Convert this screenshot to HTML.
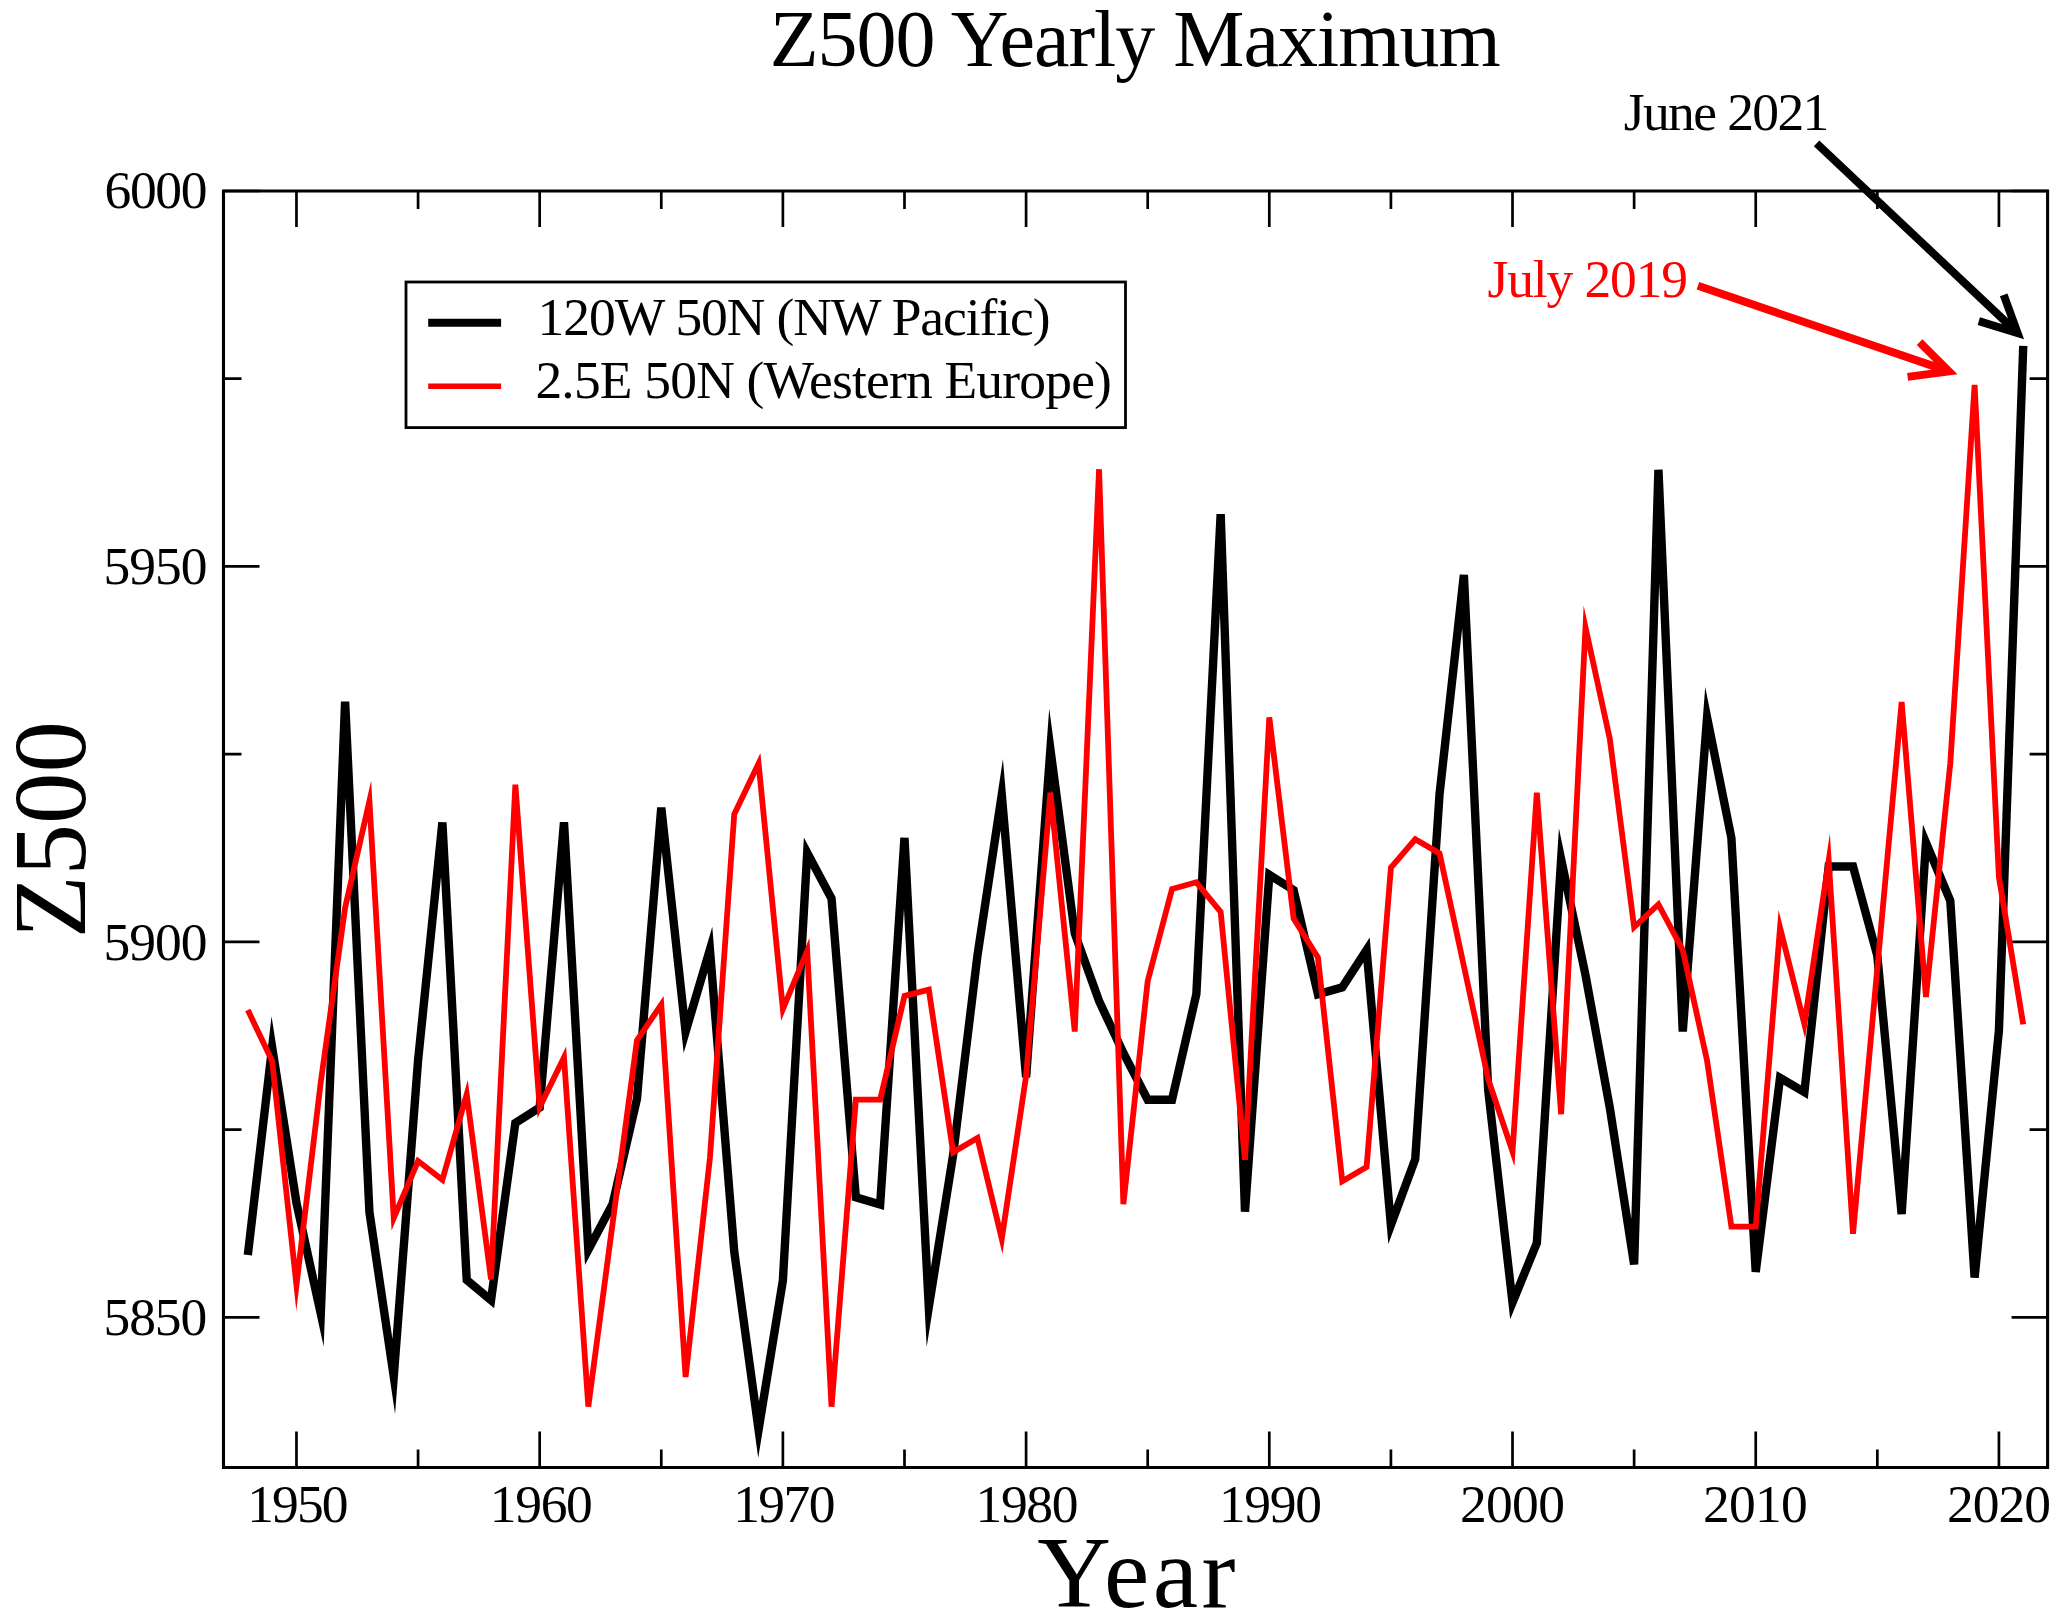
<!DOCTYPE html>
<html><head><meta charset="utf-8"><title>Z500 Yearly Maximum</title><style>
html,body{margin:0;padding:0;background:#fff;width:2067px;height:1621px;overflow:hidden}
svg{display:block}
text{font-family:"Liberation Serif",serif}
</style></head><body>
<svg width="2067" height="1621" viewBox="0 0 2067 1621">
<rect x="0" y="0" width="2067" height="1621" fill="#fff"/>
<text x="769.70" y="65.60" font-size="80.00" textLength="731.07" lengthAdjust="spacing">Z500 Yearly Maximum</text>
<text x="1037.20" y="1607.30" font-size="102.00" textLength="198.37" lengthAdjust="spacing">Year</text>
<text x="537.60" y="335.20" font-size="53.50" textLength="512.98" lengthAdjust="spacing">120W 50N (NW Pacific)</text>
<text x="535.40" y="398.20" font-size="53.50" textLength="576.51" lengthAdjust="spacing">2.5E 50N (Western Europe)</text>
<text x="1623.70" y="130.20" font-size="53.50" textLength="205.65" lengthAdjust="spacing">June 2021</text>
<text x="1487.50" y="297.30" font-size="53.50" textLength="200.56" lengthAdjust="spacing" fill="#f00">July 2019</text>
<text x="103.50" y="1335.40" font-size="53.50" textLength="103.80" lengthAdjust="spacing">5850</text>
<text x="103.60" y="959.50" font-size="53.50" textLength="104.00" lengthAdjust="spacing">5900</text>
<text x="103.60" y="584.30" font-size="53.50" textLength="104.00" lengthAdjust="spacing">5950</text>
<text x="104.50" y="208.10" font-size="53.50" textLength="103.00" lengthAdjust="spacing">6000</text>
<text x="247.20" y="1521.50" font-size="53.50" textLength="101.40" lengthAdjust="spacing">1950</text>
<text x="489.80" y="1521.50" font-size="53.50" textLength="103.00" lengthAdjust="spacing">1960</text>
<text x="733.20" y="1521.50" font-size="53.50" textLength="102.20" lengthAdjust="spacing">1970</text>
<text x="975.50" y="1521.50" font-size="53.50" textLength="103.00" lengthAdjust="spacing">1980</text>
<text x="1218.90" y="1521.50" font-size="53.50" textLength="103.00" lengthAdjust="spacing">1990</text>
<text x="1459.90" y="1521.50" font-size="53.50" textLength="105.00" lengthAdjust="spacing">2000</text>
<text x="1703.10" y="1521.50" font-size="53.50" textLength="104.60" lengthAdjust="spacing">2010</text>
<text x="1947.10" y="1521.50" font-size="53.50" textLength="103.80" lengthAdjust="spacing">2020</text>
<text transform="translate(85 938.3) rotate(-90)" font-size="103">Z500</text>
<path d="M296.46 1467.50 V1431.50 M296.46 191.00 V227.00 M418.07 1467.50 V1449.50 M418.07 191.00 V209.00 M539.67 1467.50 V1431.50 M539.67 191.00 V227.00 M661.28 1467.50 V1449.50 M661.28 191.00 V209.00 M782.88 1467.50 V1431.50 M782.88 191.00 V227.00 M904.49 1467.50 V1449.50 M904.49 191.00 V209.00 M1026.09 1467.50 V1431.50 M1026.09 191.00 V227.00 M1147.70 1467.50 V1449.50 M1147.70 191.00 V209.00 M1269.30 1467.50 V1431.50 M1269.30 191.00 V227.00 M1390.91 1467.50 V1449.50 M1390.91 191.00 V209.00 M1512.51 1467.50 V1431.50 M1512.51 191.00 V227.00 M1634.12 1467.50 V1449.50 M1634.12 191.00 V209.00 M1755.72 1467.50 V1431.50 M1755.72 191.00 V227.00 M1877.33 1467.50 V1449.50 M1877.33 191.00 V209.00 M1998.93 1467.50 V1431.50 M1998.93 191.00 V227.00 M223.50 1317.32 H259.50 M2047.60 1317.32 H2011.60 M223.50 1129.60 H241.50 M2047.60 1129.60 H2029.60 M223.50 941.88 H259.50 M2047.60 941.88 H2011.60 M223.50 754.16 H241.50 M2047.60 754.16 H2029.60 M223.50 566.44 H259.50 M2047.60 566.44 H2011.60 M223.50 378.72 H241.50 M2047.60 378.72 H2029.60 M223.50 191.00 H259.50 M2047.60 191.00 H2011.60" stroke="#000" stroke-width="2.7" fill="none"/>
<path d="M223.5 191.0 H2047.6 V1467.5 H223.5 Z" stroke="#000" stroke-width="3.1" fill="none" stroke-linejoin="miter"/>
<rect x="406" y="282" width="719.5" height="145.6" stroke="#000" stroke-width="2.8" fill="none"/>
<path d="M428.2 322.7 H501.1" stroke="#000" stroke-width="8"/>
<path d="M428.2 386.3 H501.1" stroke="#f00" stroke-width="5.4"/>
<path d="M247.82 1255.10 L272.14 1047.33 L296.46 1203.00 L320.78 1313.64 L345.11 701.70 L369.43 1212.19 L393.75 1376.50 L418.07 1060.37 L442.39 822.43 L466.71 1279.94 L491.03 1300.14 L515.35 1123.00 L539.67 1107.57 L563.99 822.36 L588.32 1249.77 L612.64 1204.02 L636.96 1098.95 L661.28 807.65 L685.60 1031.65 L709.92 949.60 L734.24 1251.55 L758.56 1429.65 L782.88 1280.54 L807.20 852.82 L831.53 898.51 L855.85 1197.30 L880.17 1204.57 L904.49 837.88 L928.81 1307.06 L953.13 1155.00 L977.45 955.57 L1001.77 794.76 L1026.09 1077.14 L1050.41 749.42 L1074.74 933.30 L1099.06 1001.00 L1123.38 1053.00 L1147.70 1099.80 L1172.02 1099.80 L1196.34 994.22 L1220.66 514.21 L1244.98 1211.60 L1269.30 874.77 L1293.62 890.04 L1317.95 994.26 L1342.27 987.39 L1366.59 950.07 L1390.91 1225.00 L1415.23 1159.12 L1439.55 794.07 L1463.87 574.96 L1488.19 1090.00 L1512.51 1302.55 L1536.83 1243.05 L1561.15 859.28 L1585.48 975.00 L1609.80 1107.70 L1634.12 1264.36 L1658.44 469.78 L1682.76 1031.48 L1707.08 717.44 L1731.40 838.04 L1755.72 1271.88 L1780.04 1077.84 L1804.37 1092.09 L1828.69 866.50 L1853.01 866.50 L1877.33 955.75 L1901.65 1214.01 L1925.97 842.61 L1950.29 900.77 L1974.61 1277.59 L1998.93 1030.32 L2023.25 345.90" stroke="#000" stroke-width="8.4" fill="none" stroke-linejoin="miter" stroke-miterlimit="10"/>
<path d="M247.82 1010.00 L272.14 1061.00 L296.46 1285.12 L320.78 1082.00 L345.11 907.72 L369.43 801.04 L393.75 1217.92 L418.07 1161.00 L442.39 1179.87 L466.71 1094.20 L491.03 1279.42 L515.35 784.72 L539.67 1107.15 L563.99 1057.56 L588.32 1406.52 L612.64 1223.00 L636.96 1040.26 L661.28 1004.59 L685.60 1376.98 L709.92 1158.00 L734.24 814.16 L758.56 763.49 L782.88 1009.07 L807.20 950.75 L831.53 1406.67 L855.85 1099.60 L880.17 1099.60 L904.49 995.97 L928.81 989.71 L953.13 1152.32 L977.45 1137.99 L1001.77 1238.76 L1026.09 1076.00 L1050.41 792.69 L1074.74 1031.51 L1099.06 469.23 L1123.38 1204.19 L1147.70 981.03 L1172.02 889.05 L1196.34 882.30 L1220.66 911.86 L1244.98 1159.72 L1269.30 717.35 L1293.62 918.51 L1317.95 957.47 L1342.27 1181.23 L1366.59 1166.96 L1390.91 867.67 L1415.23 839.32 L1439.55 853.46 L1463.87 966.00 L1488.19 1079.13 L1512.51 1151.52 L1536.83 792.62 L1561.15 1114.18 L1585.48 627.39 L1609.80 738.80 L1634.12 927.05 L1658.44 904.49 L1682.76 950.11 L1707.08 1060.72 L1731.40 1226.70 L1755.72 1226.70 L1780.04 927.77 L1804.37 1024.05 L1828.69 860.68 L1853.01 1233.84 L1877.33 968.00 L1901.65 702.06 L1925.97 997.00 L1950.29 763.26 L1974.61 384.89 L1998.93 877.29 L2023.25 1024.40" stroke="#f00" stroke-width="5.8" fill="none" stroke-linejoin="miter" stroke-miterlimit="9.45"/>
<path d="M1816.6 143.3 L2017.6 333 M2003.7 294.8 L2017.6 333 L1978.8 321.2" stroke="#000" stroke-width="8" fill="none" stroke-linejoin="miter"/>
<path d="M1697.9 285.8 L1948.9 371.4 M1919.6 342.1 L1948.9 371.4 L1907.6 376.9" stroke="#f00" stroke-width="8" fill="none" stroke-linejoin="miter"/>
</svg>
</body></html>
